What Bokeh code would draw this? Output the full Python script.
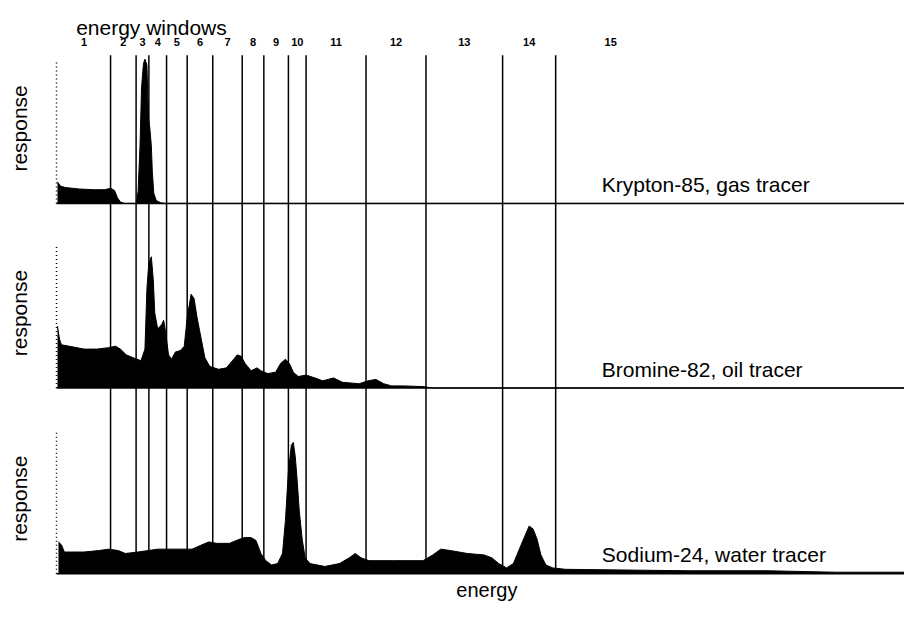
from bokeh.plotting import figure
from bokeh.models import Range1d
from bokeh.embed import file_html
from bokeh.resources import INLINE
from bokeh.core.properties import value
import math

# ---------------- data (energy in channel units) ----------------
window_names = [str(i) for i in range(1, 16)]
window_edges = [0, 54, 80, 93, 111, 132, 158, 188, 210, 235, 253, 314, 375, 453, 507, 619]

kr_energy = [0, 3, 8, 22, 37, 48, 54, 58, 61, 64, 68, 80, 82, 84, 85.5, 87.5, 89, 91,
             92.5, 94, 95.5, 96.5, 98, 100.5, 105, 109, 862]
kr_resp = [15, 12, 11, 10, 9.5, 9.5, 10.5, 9, 4, 1, 0, 0, 8, 40, 80, 97, 100, 96,
           60, 52, 40, 22, 7, 2, 0.5, 0, 0]

br_energy = [0, 2, 4, 12, 27, 40, 52, 59, 64, 70, 77, 85, 89, 91, 93, 95.5, 97.5, 99,
             102, 106, 108, 110, 113, 116, 120, 125, 129, 132, 136, 139, 142, 146, 150,
             155, 164, 172, 178, 183, 187, 191, 197, 203, 207, 214, 222, 227, 232, 236,
             240, 245, 253, 262, 270, 281, 290, 307, 316, 324, 332, 340, 352, 372, 382, 862]
br_resp = [43, 34, 30, 29, 27, 27, 28, 29, 27, 23, 21, 19, 27, 69, 87, 91, 75, 52,
           41, 44, 47, 39, 23, 20, 25, 26, 29, 49, 65, 62, 49, 35, 21,
           15, 13, 14, 19, 23, 22, 17, 12, 14, 12, 10, 11, 17, 20, 17,
           11, 8, 9, 7, 5, 7, 4, 3, 5, 6, 3, 1.5, 1.5, 1, 0, 0]

na_energy = [1, 4, 7, 14, 27, 42, 52, 62, 69, 82, 102, 122, 137, 147, 154, 162, 175,
             182, 190, 197, 202, 207, 212, 218, 224, 229, 232, 235, 238, 240, 242, 244,
             246, 249, 252, 257, 272, 287, 297, 303, 309, 317, 342, 372, 382, 390, 400,
             417, 434, 442, 449, 457, 464, 470, 475, 480, 484, 488, 492, 497, 504, 517,
             642, 722, 792, 862]
na_resp = [22, 20, 15, 15, 15, 16, 17, 16, 14, 15, 17, 17, 17, 20, 22, 21, 21,
           23, 25, 25, 23, 14, 9, 6, 7, 14, 37, 71, 89, 91, 81, 64,
           44, 24, 11, 7, 5, 7, 11, 14, 11, 9, 9, 9, 13, 17, 16,
           14, 13, 11, 7, 4, 7, 17, 25, 33, 31, 24, 13, 6, 4, 3,
           2, 2, 1, 1]

tracer_labels = ["Krypton-85, gas tracer", "Bromine-82, oil tracer", "Sodium-24, water tracer"]

# ---------------- layout ----------------
W, H = 904, 602            # figure size (fits the window with its 8px margin)
W_REF, H_REF = 920, 626    # layout units
FONT = "Liberation Sans"
PX_PER_UNIT = 1.5
baselines = [211, 403, 596]          # layout y of each panel's baseline
panel_names = ["kr", "br", "na"]
spectra = [(kr_energy, kr_resp), (br_energy, br_resp), (na_energy, na_resp)]

p = figure(width=W, height=H, output_backend="svg", toolbar_location=None,
           x_range=Range1d(-58, W_REF - 58), y_range=Range1d(H_REF, 0),
           min_border=0, outline_line_color=None)
p.axis.visible = False
p.grid.visible = False
p.background_fill_color = "white"
p.border_fill_color = "white"

for name, b in zip(panel_names, baselines):
    p.extra_y_ranges[name] = Range1d((b - H_REF) / PX_PER_UNIT, b / PX_PER_UNIT)

# window boundary lines (behind spectra)
inner = window_edges[1:-1]
p.segment(x0=inner, x1=inner, y0=[57] * len(inner), y1=[596] * len(inner),
          line_color="black", line_width=1.5)

for name, (e, r), lab in zip(panel_names, spectra, tracer_labels):
    p.varea(x=e, y1=[0] * len(e), y2=r, fill_color="black", y_range_name=name)
    p.line(x=e, y=r, line_color="black", line_width=1, y_range_name=name)
    p.segment(x0=[-1], x1=[870], y0=[0], y1=[0], line_color="black",
              line_width=1.5, y_range_name=name)
    p.segment(x0=[-1], x1=[-1], y0=[0], y1=[98], line_color="black",
              line_width=1.5, line_dash="1 3", y_range_name=name)
    p.text(x=[554], y=[13], text=[lab], text_font=value(FONT), text_font_size="21px",
           text_align="left", text_baseline="alphabetic", text_color="black",
           y_range_name=name)
    p.text(x=[-39], y=[52], text=["response"], text_font=value(FONT),
           text_font_size="21px", angle=math.pi / 2, text_align="center",
           text_baseline="middle", text_color="black", y_range_name=name)

mids = [(a + b) / 2 for a, b in zip(window_edges[:-1], window_edges[1:])]
p.text(x=mids, y=[43] * len(mids), text=window_names, text_font=value(FONT),
       text_font_size="11px", text_font_style="bold", text_align="center",
       text_baseline="middle", text_color="black")

p.text(x=[19], y=[28], text=["energy windows"], text_font=value(FONT),
       text_font_size="21px", text_align="left", text_baseline="alphabetic",
       text_color="black")
p.text(x=[437], y=[613], text=["energy"], text_font=value(FONT),
       text_font_size="20px", text_align="center", text_baseline="alphabetic",
       text_color="black")

open("out.html", "w").write(file_html(p, INLINE))
